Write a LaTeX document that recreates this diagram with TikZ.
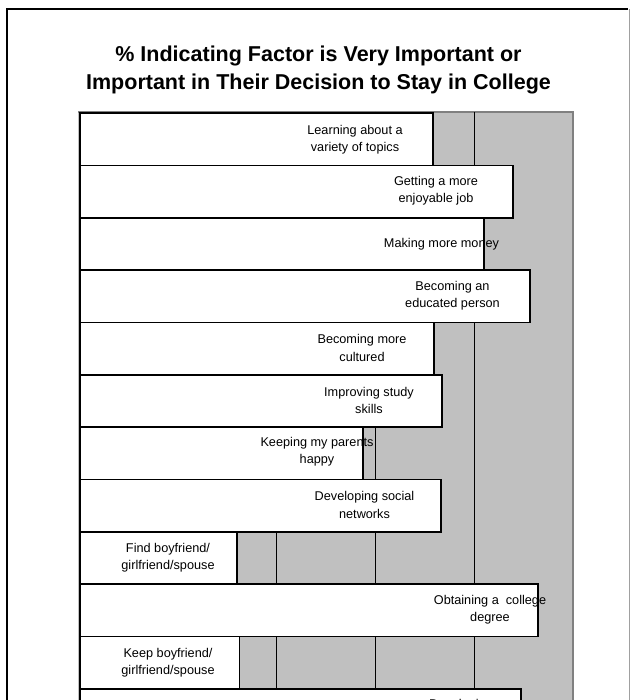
\documentclass[tikz,border=0pt]{standalone}
\usepackage{fontspec}
\setmainfont{Liberation Sans}
\definecolor{plotgray}{HTML}{C0C0C0}
\definecolor{edgegray}{HTML}{808080}
\definecolor{framegray}{HTML}{A0A0A0}
\begin{document}
\begin{tikzpicture}[x=1pt,y=-1pt,
  bar/.style={draw=black,line width=1.6pt,fill=white,inner sep=0pt,anchor=north west,minimum height=52.33pt},
  lbl/.style={align=center,font=\fontsize{12.7}{17.3}\selectfont,inner sep=0pt},
  gridln/.style={draw=black,line width=0.7pt},
  ttl/.style={align=center,font=\bfseries\fontsize{21.5}{28}\selectfont,inner sep=0pt}]
\useasboundingbox (0,0) rectangle (630,700);
% outer frame
\draw[black,line width=2pt] (7,740) -- (7,9) -- (628,9);
\draw[framegray,line width=1pt] (629,9) -- (629,740);
% title
\node[ttl] (title) at (318.5,69.5) {\% Indicating Factor is Very Important or\\Important in Their Decision to Stay in College};
% plot area
\fill[plotgray] (78,112) rectangle (573,740);
\draw[edgegray,line width=1.5pt] (78,112) -- (573,112) -- (573,740);
\foreach \gx in {177,276,375,474} \draw[gridln] (\gx,112) -- (\gx,740);
% bars
\node[bar,minimum width=353pt]   (b1)  at (79,112.3) {};
\node[bar,minimum width=433pt]   (b2)  at (79,164.6) {};
\node[bar,minimum width=404pt]   (b3)  at (79,217.0) {};
\node[bar,minimum width=450pt]   (b4)  at (79,269.3) {};
\node[bar,minimum width=354pt]   (b5)  at (79,321.6) {};
\node[bar,minimum width=362pt]   (b6)  at (79,374.0) {};
\node[bar,minimum width=283pt]   (b7)  at (79,426.3) {};
\node[bar,minimum width=361pt]   (b8)  at (79,478.6) {};
\node[bar,minimum width=157pt]   (b9)  at (79,531.0) {};
\node[bar,minimum width=458pt]   (b10) at (79,583.3) {};
\node[bar,minimum width=159.5pt] (b11) at (79,635.6) {};
\node[bar,minimum width=441pt]   (b12) at (79,688.0) {};
% labels
\node[lbl] (l1)  at (355,139.5) {Learning about a\\variety of topics};
\node[lbl] (l2)  at (436,191) {Getting a more\\enjoyable job};
\node[lbl] (l3)  at (441.5,244) {Making more money};
\node[lbl] (l4)  at (452.5,296) {Becoming an\\educated person};
\node[lbl] (l5)  at (362,348) {Becoming more\\cultured};
\node[lbl] (l6)  at (369,400.5) {Improving study\\skills};
\node[lbl] (l7)  at (317,452) {Keeping my parents\\happy};
\node[lbl] (l8)  at (364.5,505) {Developing social\\networks};
\node[lbl] (l9)  at (168,557.5) {Find boyfriend/\\girlfriend/spouse};
\node[lbl] (l10) at (490,610) {Obtaining a\ \ college\\degree};
\node[lbl] (l11) at (168,662.5) {Keep boyfriend/\\girlfriend/spouse};
\node[lbl,anchor=base west] (l12) at (429,708) {Developing};
\end{tikzpicture}
\end{document}
